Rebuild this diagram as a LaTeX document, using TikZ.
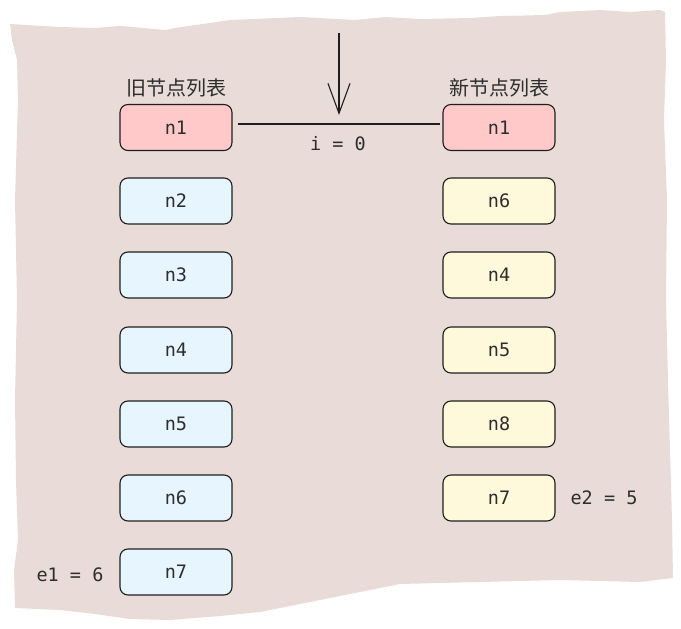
\documentclass[tikz,border=0pt]{standalone}
\usepackage{fontspec}
\setmonofont{DejaVu Sans Mono}
\newfontfamily\cjk{Noto Sans CJK SC}
\usetikzlibrary{arrows.meta}
\definecolor{paper}{RGB}{233,220,216}
\definecolor{ink}{RGB}{30,30,30}
\definecolor{txt}{RGB}{45,45,45}
\definecolor{pinkfill}{RGB}{255,201,201}
\definecolor{bluefill}{RGB}{231,245,255}
\definecolor{yellowfill}{RGB}{255,249,219}
\tikzset{
  listbox/.style={draw=ink, line width=1.1pt, rounded corners=8pt, minimum width=112pt, minimum height=46pt, inner sep=0pt, font=\ttfamily\fontsize{18.5}{18.5}\selectfont, text=txt},
  oldbox/.style={listbox, fill=bluefill},
  newbox/.style={listbox, fill=yellowfill},
  hitbox/.style={listbox, fill=pinkfill},
  title/.style={font=\cjk\fontsize{20}{20}\selectfont, text=txt},
  codelabel/.style={font=\ttfamily\fontsize{18.5}{18.5}\selectfont, text=txt}
}
\begin{document}
\begin{tikzpicture}[x=1pt,y=-1pt]
\useasboundingbox (0,0) rectangle (681,629);
% paper background
\fill[paper] (10,24) -- (60,27) -- (95,28) -- (120,26) -- (165,30) -- (175,28) -- (230,20) -- (300,17) -- (355,20) -- (385,17) -- (420,19) -- (470,18) -- (500,16) -- (545,15) -- (560,12) -- (600,10) -- (630,12) -- (660,10)
  -- (665,12) -- (666,60) -- (664,120) -- (667,200) -- (666,300) -- (668,380) -- (670,450) -- (672,520) -- (673,578)
  -- (640,582) -- (560,580) -- (480,582) -- (400,584) -- (360,592) -- (330,598) -- (290,606) -- (260,612) -- (220,616) -- (170,620) -- (130,619) -- (95,614) -- (60,610) -- (15,608)
  -- (14,570) -- (18,540) -- (16,480) -- (15,400) -- (17,300) -- (15,200) -- (18,100) -- (17,60) -- (12,40) -- cycle;

% titles
\node[title] (toldt) at (176,88) {旧节点列表};
\node[title] (tnewt) at (499,88) {新节点列表};

% old list
\node[hitbox] (o1) at (176,127.5) {n1};
\node[oldbox] (o2) at (176,201) {n2};
\node[oldbox] (o3) at (176,275) {n3};
\node[oldbox] (o4) at (176,350) {n4};
\node[oldbox] (o5) at (176,424) {n5};
\node[oldbox] (o6) at (176,498) {n6};
\node[oldbox] (o7) at (176,572) {n7};

% new list
\node[hitbox] (r1) at (499,127.5) {n1};
\node[newbox] (r2) at (499,201) {n6};
\node[newbox] (r3) at (499,275) {n4};
\node[newbox] (r4) at (499,350) {n5};
\node[newbox] (r5) at (499,424) {n8};
\node[newbox] (r6) at (499,498) {n7};

% connector between the two n1
\draw[ink, line width=1.1pt] ([xshift=5pt,yshift=3.5pt]o1.east) -- ([xshift=-2pt,yshift=3.5pt]r1.west);
\node[codelabel] (ilabel) at (338,144) {i = 0};

% pointer arrow
\coordinate (ptop) at (339,33);
\coordinate (ptip) at (339,115);
\draw[ink, line width=1.1pt, -{Straight Barb[length=30pt,width=22pt,line width=1.1pt]}] (ptop) -- (ptip);

% end indices
\node[codelabel] (e1) at (70,575) {e1 = 6};
\node[codelabel] (e2) at (604,498) {e2 = 5};
\end{tikzpicture}
\end{document}
